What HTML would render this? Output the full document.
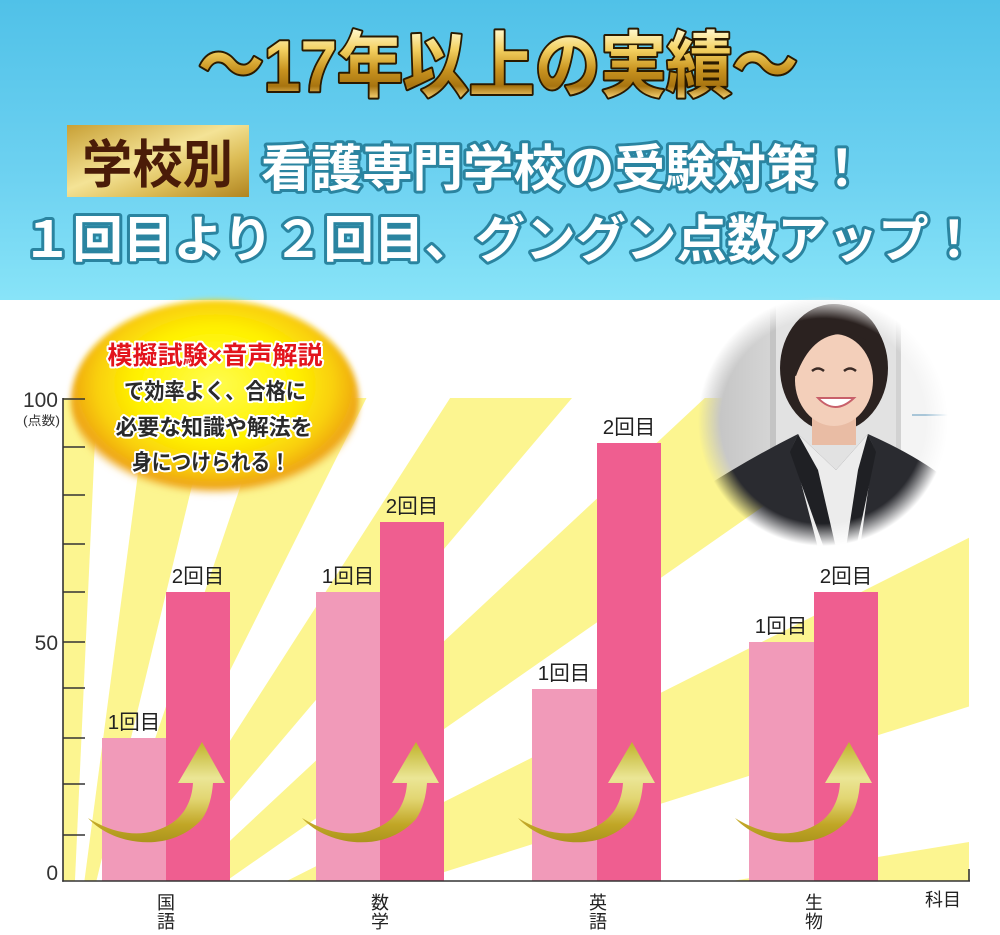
<!DOCTYPE html>
<html lang="ja">
<head>
<meta charset="utf-8">
<style>
  html,body{margin:0;padding:0;background:#fff;width:1000px;height:935px;overflow:hidden;}
  svg{display:block;}
  text{font-family:"Liberation Sans","Noto Sans CJK JP",sans-serif;}
</style>
</head>
<body>
<svg width="1000" height="935" viewBox="0 0 1000 935" xmlns="http://www.w3.org/2000/svg" overflow="hidden">
  <defs>
    <linearGradient id="hdr" x1="0" y1="0" x2="0" y2="1">
      <stop offset="0" stop-color="#50c1e8"/>
      <stop offset="0.6" stop-color="#6ed2f1"/>
      <stop offset="1" stop-color="#88e4f8"/>
    </linearGradient>
    <linearGradient id="gold" x1="0" y1="30" x2="0" y2="96" gradientUnits="userSpaceOnUse">
      <stop offset="0" stop-color="#fff7c8"/>
      <stop offset="0.3" stop-color="#f3d060"/>
      <stop offset="0.6" stop-color="#c99420"/>
      <stop offset="0.85" stop-color="#a87410"/>
      <stop offset="1" stop-color="#e8c060"/>
    </linearGradient>
    <linearGradient id="goldbox" x1="0" y1="0" x2="1" y2="1">
      <stop offset="0" stop-color="#c8a035"/>
      <stop offset="0.45" stop-color="#f4e396"/>
      <stop offset="0.7" stop-color="#dcbc55"/>
      <stop offset="1" stop-color="#b08420"/>
    </linearGradient>
    <radialGradient id="bub" cx="0.5" cy="0.42" r="0.55">
      <stop offset="0" stop-color="#fffc50"/>
      <stop offset="0.5" stop-color="#fff200"/>
      <stop offset="0.75" stop-color="#f9cf0c"/>
      <stop offset="0.92" stop-color="#eea414"/>
      <stop offset="1" stop-color="#f6c860" stop-opacity="0"/>
    </radialGradient>
    <filter id="blur4" x="-20%" y="-20%" width="140%" height="140%">
      <feGaussianBlur stdDeviation="3"/>
    </filter>
    <linearGradient id="arr" x1="0" y1="-139" x2="0" y2="-36" gradientUnits="userSpaceOnUse">
      <stop offset="0" stop-color="#bfb22a"/>
      <stop offset="0.35" stop-color="#ebe696"/>
      <stop offset="0.55" stop-color="#e2d672"/>
      <stop offset="0.8" stop-color="#c1a626"/>
      <stop offset="1" stop-color="#a8921a"/>
    </linearGradient>
    <radialGradient id="pm" cx="823" cy="421" r="125" gradientUnits="userSpaceOnUse">
      <stop offset="0.82" stop-color="#fff"/>
      <stop offset="1" stop-color="#000"/>
    </radialGradient>
    <mask id="photoMask" maskUnits="userSpaceOnUse" x="690" y="290" width="270" height="270">
      <rect x="690" y="290" width="270" height="270" fill="url(#pm)"/>
    </mask>
    <linearGradient id="wallL" x1="0" y1="0" x2="1" y2="0">
      <stop offset="0" stop-color="#bdbdbd"/>
      <stop offset="1" stop-color="#d6d6d6"/>
    </linearGradient>
  </defs>

  <!-- header -->
  <rect x="0" y="0" width="1000" height="300" fill="url(#hdr)"/>

  <text x="198" y="91" font-size="72" font-weight="bold" textLength="600" lengthAdjust="spacingAndGlyphs"
        fill="url(#gold)" stroke="#2a1a00" stroke-width="4" stroke-linejoin="round" paint-order="stroke">～17年以上の実績～</text>

  <rect x="67" y="125" width="182" height="72" fill="url(#goldbox)"/>
  <text x="82" y="183" font-size="52" font-weight="bold" textLength="151" lengthAdjust="spacingAndGlyphs" fill="#4a1c08">学校別</text>

  <text x="261" y="186" font-size="50" font-weight="bold" textLength="606" lengthAdjust="spacingAndGlyphs"
        fill="#ffffff" stroke="#2a84a0" stroke-width="6" stroke-linejoin="round" paint-order="stroke">看護専門学校の受験対策！</text>

  <text x="22" y="257" font-size="50" font-weight="bold" textLength="957" lengthAdjust="spacingAndGlyphs"
        fill="#ffffff" stroke="#2a84a0" stroke-width="6" stroke-linejoin="round" paint-order="stroke">１回目より２回目、グングン点数アップ！</text>

  <!-- rays (pre-clipped to chart area) -->
  <g fill="#fcf590">
    <polygon points="732,881 969,842 969,881"/>
    <polygon points="286.7,881 415.7,881 969,706.5 969,537.8"/>
    <polygon points="186.9,881 226.2,881 918.6,398 704.8,398"/>
    <polygon points="140,881 162.4,881 572,398 450.1,398"/>
    <polygon points="106.9,881 124.6,881 366.5,398 270.4,398"/>
    <polygon points="84.4,881 96.4,881 213.2,398 147.9,398"/>
    <polygon points="63,881 74.95,881 96.9,398 63,398"/>
  </g>

  <!-- bars -->
  <g>
    <rect x="102" y="738" width="64" height="143" fill="#f19ab9"/>
    <rect x="166" y="592" width="64" height="289" fill="#ef5e90"/>
    <rect x="316" y="592" width="64" height="289" fill="#f19ab9"/>
    <rect x="380" y="522" width="64" height="359" fill="#ef5e90"/>
    <rect x="532" y="689" width="65" height="192" fill="#f19ab9"/>
    <rect x="597" y="443" width="64" height="438" fill="#ef5e90"/>
    <rect x="749" y="642" width="65" height="239" fill="#f19ab9"/>
    <rect x="814" y="592" width="64" height="289" fill="#ef5e90"/>
  </g>

  <!-- arrows -->
  <g fill="url(#arr)">
    <path transform="translate(102,881)" d="M -14 -63 C 10 -36 68 -26 100 -62 C 107 -72 110 -85 111 -98 L 123 -98 L 100 -139 L 76 -98 L 91 -98 C 90 -80 82 -66 70 -58 C 45 -42 15 -45 -14 -63 Z"/>
    <path transform="translate(316,881)" d="M -14 -63 C 10 -36 68 -26 100 -62 C 107 -72 110 -85 111 -98 L 123 -98 L 100 -139 L 76 -98 L 91 -98 C 90 -80 82 -66 70 -58 C 45 -42 15 -45 -14 -63 Z"/>
    <path transform="translate(532,881)" d="M -14 -63 C 10 -36 68 -26 100 -62 C 107 -72 110 -85 111 -98 L 123 -98 L 100 -139 L 76 -98 L 91 -98 C 90 -80 82 -66 70 -58 C 45 -42 15 -45 -14 -63 Z"/>
    <path transform="translate(749,881)" d="M -14 -63 C 10 -36 68 -26 100 -62 C 107 -72 110 -85 111 -98 L 123 -98 L 100 -139 L 76 -98 L 91 -98 C 90 -80 82 -66 70 -58 C 45 -42 15 -45 -14 -63 Z"/>
  </g>

  <!-- bar labels -->
  <g font-size="20.5" fill="#222" text-anchor="middle">
    <text x="134" y="729">1回目</text>
    <text x="198" y="583">2回目</text>
    <text x="348" y="583">1回目</text>
    <text x="412" y="513">2回目</text>
    <text x="564" y="680">1回目</text>
    <text x="629" y="434">2回目</text>
    <text x="781" y="633">1回目</text>
    <text x="846" y="583">2回目</text>
  </g>

  <!-- photo -->
  <g mask="url(#photoMask)">
    <rect x="690" y="290" width="270" height="270" fill="#ededed"/>
    <rect x="690" y="290" width="85" height="270" fill="url(#wallL)"/>
    <rect x="775" y="290" width="125" height="270" fill="#e2e2e2"/>
    <rect x="770" y="290" width="6" height="270" fill="#c4c4c4"/>
    <rect x="896" y="290" width="5" height="270" fill="#d2d2d2"/>
    <rect x="901" y="290" width="59" height="270" fill="#f4f4f4"/>
    <rect x="912" y="414" width="46" height="2" fill="#a9c6d8"/>
    <ellipse cx="834" cy="368" rx="54" ry="64" fill="#2b2220"/>
    <rect x="812" y="405" width="44" height="40" fill="#e9bca4"/>
    <path d="M 690 560 L 700 490 Q 750 458 798 434 L 836 470 L 868 434 Q 915 455 945 478 L 960 560 Z" fill="#2a2b30"/>
    <path d="M 798 434 L 836 470 L 868 434 L 874 448 L 860 548 L 818 548 L 792 448 Z" fill="#ececec"/>
    <path d="M 798 434 L 818 470 L 836 548 L 824 548 L 790 452 Z" fill="#1f2024"/>
    <path d="M 868 434 L 858 470 L 846 548 L 856 548 L 876 452 Z" fill="#1f2024"/>
    <ellipse cx="834" cy="380" rx="39" ry="46" fill="#f3cfba"/>
    <path d="M 784 372 Q 784 308 834 304 Q 884 306 886 368 Q 876 336 846 334 Q 812 332 796 376 Z" fill="#2b2220"/>
    <path d="M 812 371 q 6 -5 12 0" stroke="#3a2a25" stroke-width="2.5" fill="none"/>
    <path d="M 844 371 q 6 -5 12 0" stroke="#3a2a25" stroke-width="2.5" fill="none"/>
    <path d="M 818 398 Q 835 416 854 398 Z" fill="#ffffff" stroke="#c8606a" stroke-width="2"/>
  </g>

  <!-- bubble -->
  <ellipse cx="215" cy="401" rx="144" ry="101" fill="url(#bub)" filter="url(#blur4)"/>
  <g font-weight="bold" text-anchor="middle" stroke="#ffffff" stroke-linejoin="round" paint-order="stroke">
    <text x="215" y="364" font-size="25" fill="#e3141c" stroke-width="4" textLength="215" lengthAdjust="spacingAndGlyphs">模擬試験×音声解説</text>
    <text x="215" y="399" font-size="22" fill="#2a2a2a" stroke-width="4" textLength="182" lengthAdjust="spacingAndGlyphs">で効率よく、合格に</text>
    <text x="214" y="435" font-size="22" fill="#2a2a2a" stroke-width="4" textLength="197" lengthAdjust="spacingAndGlyphs">必要な知識や解法を</text>
    <text x="211" y="470" font-size="22" fill="#2a2a2a" stroke-width="4" textLength="158" lengthAdjust="spacingAndGlyphs">身につけられる！</text>
  </g>

  <!-- axes -->
  <g stroke="#333" stroke-width="1.6" fill="none">
    <line x1="63" y1="398" x2="63" y2="881.8"/>
    <line x1="62.2" y1="881" x2="970" y2="881"/>
    <line x1="969" y1="869" x2="969" y2="881"/>
    <line x1="63" y1="399" x2="85" y2="399"/>
    <line x1="63" y1="447" x2="85" y2="447"/>
    <line x1="63" y1="495" x2="85" y2="495"/>
    <line x1="63" y1="544" x2="85" y2="544"/>
    <line x1="63" y1="592" x2="85" y2="592"/>
    <line x1="63" y1="642" x2="85" y2="642"/>
    <line x1="63" y1="688" x2="85" y2="688"/>
    <line x1="63" y1="738" x2="85" y2="738"/>
    <line x1="63" y1="784" x2="85" y2="784"/>
    <line x1="63" y1="835" x2="85" y2="835"/>
  </g>
  <g fill="#333" text-anchor="end" font-size="21">
    <text x="58" y="407">100</text>
    <text x="58" y="650">50</text>
    <text x="58" y="880">0</text>
  </g>
  <text x="23" y="425" font-size="12.5" fill="#333" textLength="37" lengthAdjust="spacingAndGlyphs">(点数)</text>

  <!-- category labels -->
  <g font-size="18" fill="#222" text-anchor="middle">
    <text x="166" y="909">国</text><text x="166" y="928">語</text>
    <text x="380" y="909">数</text><text x="380" y="928">学</text>
    <text x="598" y="909">英</text><text x="598" y="928">語</text>
    <text x="814" y="909">生</text><text x="814" y="928">物</text>
    <text x="943" y="906">科目</text>
  </g>
</svg>
</body>
</html>
